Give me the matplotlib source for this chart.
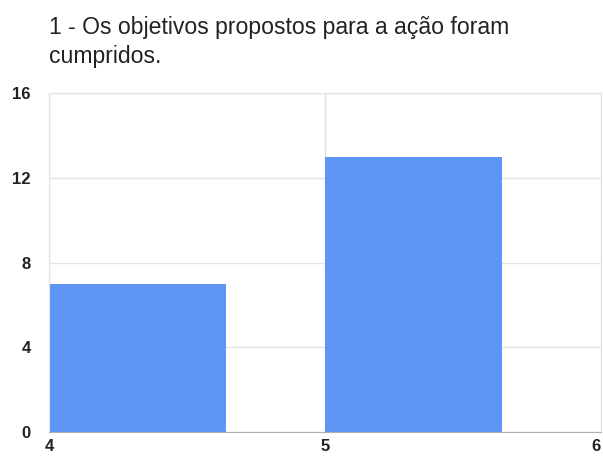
import matplotlib
matplotlib.use("Agg")
from matplotlib import pyplot as plt

title = "1 - Os objetivos propostos para a ação foram\ncumpridos."
bin_left = [4, 5]
counts = [7, 13]
bar_width = 0.64
x_ticks = [4, 5, 6]
y_ticks = [0, 4, 8, 12, 16]

plt.rcParams['font.family'] = ['Liberation Sans', 'DejaVu Sans']

fig = plt.figure(figsize=(6.03, 4.59), dpi=100)
ax = fig.add_axes([0.0813, 0.0588, 0.9154, 0.7386])

ax.bar(bin_left, counts, width=bar_width, align='edge', color='#5f96f5', zorder=2)

ax.set_xlim(4, 6)
ax.set_ylim(0, 16)
ax.set_xticks(x_ticks)
ax.set_yticks(y_ticks)
ax.set_xticklabels([str(t) for t in x_ticks], fontweight='bold', fontsize=12, color='#222222')
ax.set_yticklabels([str(t) for t in y_ticks], fontweight='bold', fontsize=12, color='#222222')
ax.tick_params(length=0)
ax.tick_params(axis='y', pad=13)
ax.tick_params(axis='x', pad=5)
# last x label sits flush with the right edge
ax.get_xticklabels()[-1].set_horizontalalignment('right')

ax.grid(True, color='#e3e3e3', linewidth=1, zorder=0)
for s in ['top', 'right', 'left']:
    ax.spines[s].set_color('#e3e3e3')
ax.spines['bottom'].set_color('#b0b0b0')
ax.spines['bottom'].set_zorder(3)

fig.text(0.0813, 1 - 16 / 459, title, fontsize=16.6, va='top', ha='left',
         color='#222222', linespacing=1.35)

fig.savefig("out.png", dpi=100)
